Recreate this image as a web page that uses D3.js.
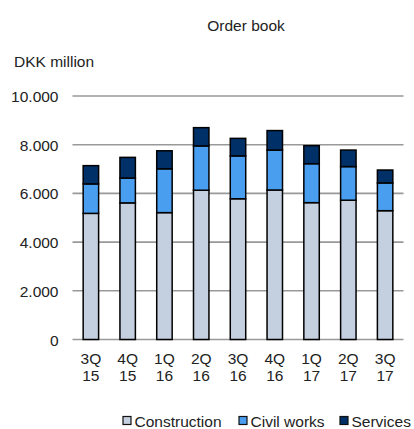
<!DOCTYPE html>
<html><head><meta charset="utf-8">
<script src="https://cdn.jsdelivr.net/npm/d3@7"></script>
<style>body{margin:0;background:#fff}svg{display:block;font-family:"Liberation Sans",Arial,sans-serif}</style>
</head><body><svg id="c" width="414" height="429"></svg>
<script>
const categories = ["3Q 15","4Q 15","1Q 16","2Q 16","3Q 16","4Q 16","1Q 17","2Q 17","3Q 17"];
const construction = [5180,5610,5210,6130,5780,6140,5620,5720,5290];
const civilWorks   = [1210,1020,1800,1820,1760,1640,1600,1380,1140];
const services     = [750, 850, 740, 750, 720, 800, 740, 680, 530];
const seriesNames = ["Construction","Civil works","Services"];
const colors = ["#c4cfe0","#4a9ef0","#003068"];
const yTicks = [0,2000,4000,6000,8000,10000];

const FS = 15.5;
const svg = d3.select("#c");
const x = d3.scaleBand().domain(categories).range([72.5,403.5]).paddingInner(0.58).paddingOuter(0.29);
const y = d3.scaleLinear().domain([0,10000]).range([339.5,96]);

const fmt = v => d3.format(",")(v).replace(/,/g,".");

// gridlines
svg.append("g").selectAll("line").data(yTicks).join("line")
  .attr("x1",72.5).attr("x2",403.5).attr("y1",d=>y(d)).attr("y2",d=>y(d))
  .attr("stroke","#999").attr("stroke-width",1.6);

// y axis labels
const yAxis = d3.axisLeft(y).tickValues(yTicks).tickFormat(fmt).tickSize(0).tickPadding(0);
const ya = svg.append("g").attr("transform","translate(58.5,0)").call(yAxis);
ya.select(".domain").remove();
ya.selectAll("text").attr("font-size",FS).attr("fill","#222").attr("dy",null).attr("y",5.5)
  .attr("font-family","Liberation Sans, Arial, sans-serif");

// stacked bars
const rows = categories.map((c,i)=>({cat:c, Construction:construction[i], "Civil works":civilWorks[i], Services:services[i]}));
const stack = d3.stack().keys(seriesNames)(rows);
svg.append("g").selectAll("g").data(stack).join("g")
  .attr("fill",(d,i)=>colors[i])
  .selectAll("rect").data(d=>d).join("rect")
  .attr("x",d=>x(d.data.cat)).attr("width",x.bandwidth())
  .attr("y",d=>y(d[1])).attr("height",d=>y(d[0])-y(d[1]))
  .attr("stroke","#000").attr("stroke-width",1.5);

// x labels
const xl = svg.append("g");
categories.forEach(c=>{
  const parts = c.split(" ");
  const cx = x(c)+x.bandwidth()/2;
  const t = xl.append("text").attr("text-anchor","middle").attr("font-size",FS).attr("fill","#222");
  t.append("tspan").attr("x",cx).attr("y",363.5).text(parts[0]);
  t.append("tspan").attr("x",cx).attr("y",381).text(parts[1]);
});

// titles
svg.append("text").attr("x",246).attr("y",31).attr("text-anchor","middle").attr("font-size",FS).attr("fill","#222").text("Order book");
svg.append("text").attr("x",14).attr("y",66.7).attr("font-size",FS).attr("fill","#222").text("DKK million");

// legend
const legX = [122,238,339];
const lg = svg.append("g");
seriesNames.forEach((n,i)=>{
  lg.append("rect").attr("x",legX[i]+1).attr("y",416.5).attr("width",8).attr("height",8)
    .attr("fill",colors[i]).attr("stroke","#111").attr("stroke-width",1.2);
  lg.append("text").attr("x",legX[i]+12.5).attr("y",426.5).attr("font-size",FS).attr("fill","#222").text(n);
});
</script></body></html>
